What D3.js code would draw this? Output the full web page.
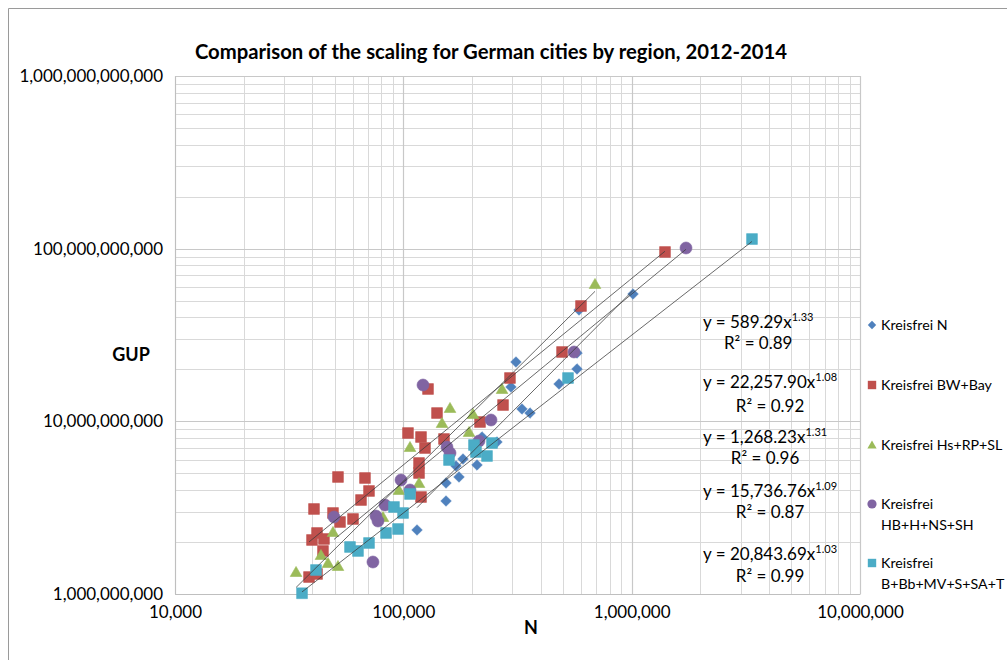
<!DOCTYPE html>
<html>
<head>
<meta charset="utf-8">
<script src="https://cdn.jsdelivr.net/npm/d3@7"></script>
<style>
  html, body { margin: 0; padding: 0; background: #fff; }
  svg { display: block; font-family: Lato, "Open Sans", sans-serif; }
</style>
</head>
<body>
<svg id="chart" width="1007" height="660"></svg>
<script>
// ---------------- DATA ----------------
const title = "Comparison of the scaling for German cities by region, 2012-2014";
const xTickValues = [1e4, 1e5, 1e6, 1e7];
const xTickLabels = ["10,000", "100,000", "1,000,000", "10,000,000"];
const yTickValues = [1e9, 1e10, 1e11, 1e12];
const yTickLabels = ["1,000,000,000", "10,000,000,000", "100,000,000,000", "1,000,000,000,000"];
const xTitle = "N";
const yTitle = "GUP";

const seriesNames = ["Kreisfrei N", "Kreisfrei BW+Bay", "Kreisfrei Hs+RP+SL", "Kreisfrei HB+H+NS+SH", "Kreisfrei B+Bb+MV+S+SA+T"];
const legendLines = [["Kreisfrei N"], ["Kreisfrei BW+Bay"], ["Kreisfrei Hs+RP+SL"], ["Kreisfrei", "HB+H+NS+SH"], ["Kreisfrei", "B+Bb+MV+S+SA+T"]];

// [N, GUP]
const seriesN = [
  [114800, 2.348e9], [153800, 3.456e9], [153800, 4.394e9], [175300, 4.761e9], [170100, 5.511e9],
  [182500, 6.050e9], [210200, 5.586e9], [221100, 8.115e9], [257100, 7.590e9], [296100, 1.581e10],
  [311400, 2.206e10], [330800, 1.179e10], [358700, 1.117e10], [480700, 1.645e10], [576300, 2.010e10],
  [576300, 2.488e10], [588000, 4.415e10], [1013700, 5.463e10]
];
const seriesBW = [
  [38630, 1.254e9], [41880, 1.306e9], [39810, 2.055e9], [41880, 2.256e9], [44920, 2.083e9],
  [44470, 1.775e9], [40620, 3.107e9], [49200, 2.945e9], [52800, 2.612e9], [60200, 2.719e9],
  [65260, 3.502e9], [70740, 3.950e9], [51740, 4.761e9], [67930, 4.697e9], [104800, 8.555e9],
  [119520, 8.115e9], [124430, 7.006e9], [117140, 5.737e9], [117140, 5.021e9], [119520, 3.645e9],
  [150700, 7.901e9], [128250, 1.539e10], [140450, 1.117e10], [216700, 9.911e9], [273300, 1.243e10],
  [293100, 1.782e10], [495500, 2.521e10], [599900, 4.655e10], [1399600, 9.565e10]
];
const seriesHs = [
  [33900, 1.341e9], [43580, 1.682e9], [46780, 1.512e9], [51740, 1.453e9], [49200, 2.286e9],
  [81470, 2.792e9], [95700, 4.003e9], [106960, 7.100e9], [117140, 4.394e9], [147700, 9.779e9],
  [160100, 1.195e10], [194000, 8.677e9], [201900, 1.103e10], [270600, 1.539e10], [690900, 6.243e10]
];
const seriesHB = [
  [49700, 2.792e9], [73600, 1.532e9], [75900, 2.829e9], [77450, 2.647e9], [83140, 3.277e9],
  [97680, 4.574e9], [106960, 4.003e9], [121950, 1.623e10], [155300, 7.100e9], [160100, 6.556e9],
  [214500, 7.692e9], [242100, 1.018e10], [559100, 2.521e10], [1729800, 1.009e11]
];
const seriesB = [
  [36000, 1.01e9], [41450, 1.377e9], [58400, 1.872e9], [63300, 1.775e9], [70740, 1.974e9],
  [84000, 2.256e9], [94780, 2.379e9], [91000, 3.191e9], [99700, 2.945e9], [106960, 3.795e9],
  [158500, 5.970e9], [203900, 7.292e9], [208100, 6.644e9], [232500, 6.298e9], [244500, 7.489e9],
  [526300, 1.782e10], [3365000, 1.137e11]
];

// trendline fits: y = a * x^b
const fitA = [589.29, 22257.90, 1268.23, 15736.76, 20843.69];
const fitB = [1.33, 1.08, 1.31, 1.09, 1.03];
const fitR2 = [0.89, 0.92, 0.96, 0.87, 0.99];
const fitALabels = ["589.29", "22,257.90", "1,268.23", "15,736.76", "20,843.69"];

// ---------------- STYLE ----------------
const colors = ["#4F81BD", "#C0504D", "#9BBB59", "#8064A2", "#4BACC6"];
const shapes = ["diamond", "square", "triangle", "circle", "square"];
const allSeries = [seriesN, seriesBW, seriesHs, seriesHB, seriesB];

const svg = d3.select("#chart");
const W = 1007, H = 660;
const plot = { left: 175, right: 860, top: 76, bottom: 594 };

// outer chart border
svg.append("line").attr("x1", 8.5).attr("x2", W).attr("y1", 8.5).attr("y2", 8.5).attr("stroke", "#9a9a9a").attr("stroke-width", 1);
svg.append("line").attr("x1", 8.5).attr("x2", 8.5).attr("y1", 8.5).attr("y2", H).attr("stroke", "#9a9a9a").attr("stroke-width", 1);

const x = d3.scaleLog().domain([1e4, 1e7]).range([plot.left, plot.right]);
const y = d3.scaleLog().domain([1e9, 1e12]).range([plot.bottom, plot.top]);

// minor + major gridlines
function minorValues(domain) {
  const out = [];
  for (let e = Math.log10(domain[0]); e < Math.log10(domain[1]); e++) {
    for (let m = 2; m <= 9; m++) out.push(m * Math.pow(10, e));
  }
  return out;
}
const grid = svg.append("g");
grid.selectAll("line.xminor").data(minorValues(x.domain())).join("line")
  .attr("x1", d => Math.round(x(d)) + 0.5).attr("x2", d => Math.round(x(d)) + 0.5)
  .attr("y1", plot.top).attr("y2", plot.bottom)
  .attr("stroke", "#d9d9d9").attr("stroke-width", 1);
grid.selectAll("line.yminor").data(minorValues(y.domain())).join("line")
  .attr("y1", d => Math.round(y(d)) + 0.5).attr("y2", d => Math.round(y(d)) + 0.5)
  .attr("x1", plot.left).attr("x2", plot.right)
  .attr("stroke", "#d9d9d9").attr("stroke-width", 1);
grid.selectAll("line.xmajor").data(xTickValues).join("line")
  .attr("x1", d => Math.round(x(d)) + 0.5).attr("x2", d => Math.round(x(d)) + 0.5)
  .attr("y1", plot.top).attr("y2", plot.bottom)
  .attr("stroke", "#c8c8c8").attr("stroke-width", 1.2);
grid.selectAll("line.ymajor").data(yTickValues).join("line")
  .attr("y1", d => Math.round(y(d)) + 0.5).attr("y2", d => Math.round(y(d)) + 0.5)
  .attr("x1", plot.left).attr("x2", plot.right)
  .attr("stroke", "#c8c8c8").attr("stroke-width", 1.2);

// axes (labels only, via d3 axis)
const xAxis = d3.axisBottom(x).tickValues(xTickValues).tickFormat((d, i) => xTickLabels[i]).tickSize(0).tickPadding(12);
const gx = svg.append("g").attr("transform", `translate(0,${plot.bottom})`).call(xAxis);
gx.select(".domain").attr("stroke", "#bfbfbf");
gx.selectAll("text").attr("font-size", 17).attr("fill", "#000").attr("font-family", "Lato");

const yAxis = d3.axisLeft(y).tickValues(yTickValues).tickFormat((d, i) => yTickLabels[i]).tickSize(0).tickPadding(12);
const gy = svg.append("g").attr("transform", `translate(${plot.left},0)`).call(yAxis);
gy.select(".domain").attr("stroke", "#bfbfbf");
gy.selectAll("text").attr("font-size", 17).attr("fill", "#000").attr("font-family", "Lato");

// titles
svg.append("text").attr("x", 491).attr("y", 59).attr("text-anchor", "middle")
  .attr("font-size", 20.3).attr("font-weight", "bold").text(title);
svg.append("text").attr("x", 531).attr("y", 634).attr("text-anchor", "middle")
  .attr("font-size", 18).attr("font-weight", "bold").text(xTitle);
svg.append("text").attr("x", 131).attr("y", 361).attr("text-anchor", "middle")
  .attr("font-size", 18).attr("font-weight", "bold").text(yTitle);

// markers
function markerPath(shape, s) {
  if (shape === "diamond") return `M0,${-s}L${s},0L0,${s}L${-s},0Z`;
  if (shape === "square") return `M${-s},${-s}H${s}V${s}H${-s}Z`;
  if (shape === "triangle") return `M0,${-s * 1.05}L${s * 1.1},${s * 0.85}L${-s * 1.1},${s * 0.85}Z`;
  return d3.symbol(d3.symbolCircle, Math.PI * s * s)();
}
const markerSize = [5.3, 5.4, 5.3, 6.0, 5.4];

allSeries.forEach((data, i) => {
  svg.append("g").selectAll("path").data(data).join("path")
    .attr("transform", d => `translate(${x(d[0])},${y(d[1])})`)
    .attr("d", markerPath(shapes[i], markerSize[i]))
    .attr("fill", colors[i]).attr("stroke", colors[i]).attr("stroke-width", 0.6);
});

// trendlines
const line = d3.line().x(d => x(d[0])).y(d => y(d[1]));
allSeries.forEach((data, i) => {
  const ext = d3.extent(data, d => d[0]);
  const pts = d3.range(0, 11).map(k => {
    const xv = Math.pow(10, Math.log10(ext[0]) + (Math.log10(ext[1]) - Math.log10(ext[0])) * k / 10);
    return [xv, fitA[i] * Math.pow(xv, fitB[i])];
  });
  svg.append("path").datum(pts).attr("d", line)
    .attr("fill", "none").attr("stroke", "#3a3a3a").attr("stroke-width", 0.9).attr("opacity", 0.85);
});

// equation labels
const eqY = [322, 382, 437, 491, 554];
const eqR2Y = [343, 406, 458, 512, 576];
fitA.forEach((a, i) => {
  const g = svg.append("g");
  const t = g.append("text").attr("x", 703).attr("y", eqY[i] + 6).attr("font-size", 17).attr("fill", "#000");
  t.append("tspan").text(`y = ${fitALabels[i]}x`);
  t.append("tspan").attr("font-size", 11).attr("dy", -7).text(fitB[i].toFixed(2));
  const w = t.node().getComputedTextLength();
  g.append("text").attr("x", 703 + w / 2).attr("y", eqR2Y[i] + 6).attr("text-anchor", "middle")
    .attr("font-size", 17).attr("fill", "#000").text(`R² = ${fitR2[i].toFixed(2)}`);
});

// legend
const legY = [325, 385, 445, 504, 563];
legendLines.forEach((lines, i) => {
  const g = svg.append("g").attr("transform", `translate(0,${legY[i]})`);
  g.append("path").attr("transform", "translate(872,0)")
    .attr("d", markerPath(shapes[i], shapes[i] === "diamond" ? 4.2 : (shapes[i] === "circle" ? 4.6 : 4.2)))
    .attr("fill", colors[i]);
  lines.forEach((l, j) => {
    g.append("text").attr("x", 881).attr("y", 5 + j * 20.5).attr("font-size", 14.2).attr("fill", "#000").text(l);
  });
});
</script>
</body>
</html>
